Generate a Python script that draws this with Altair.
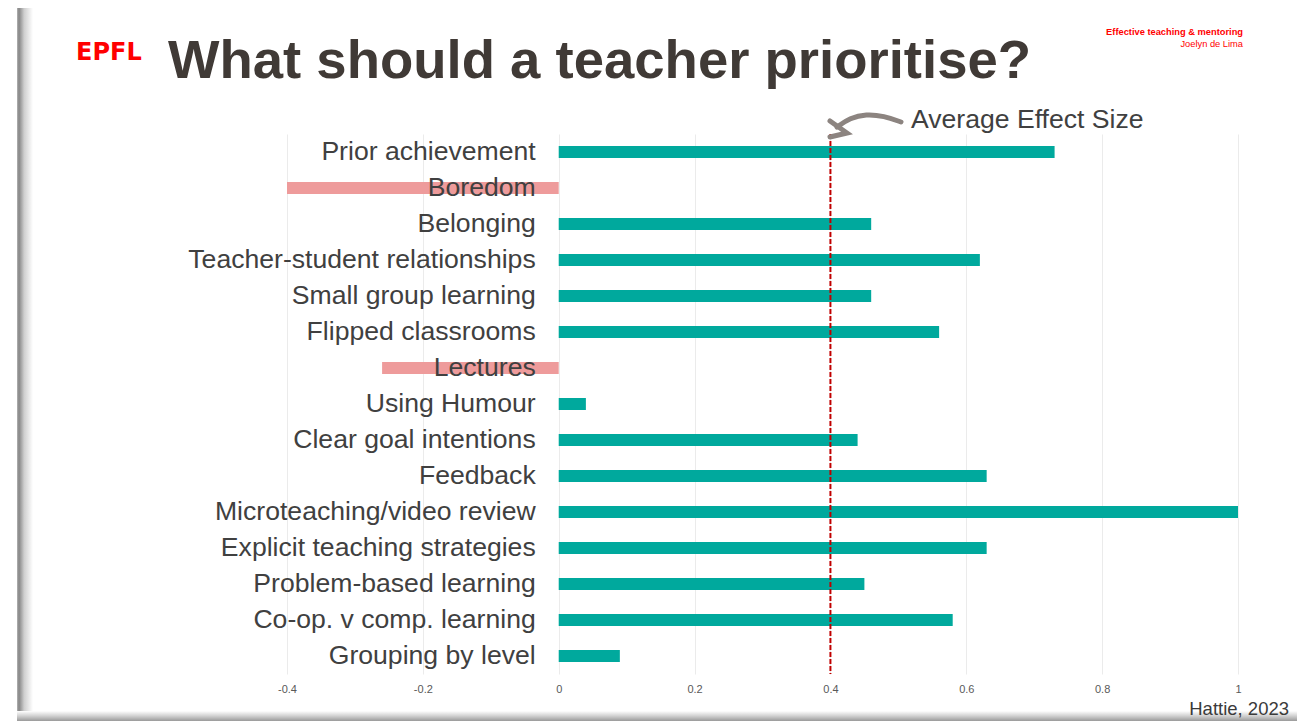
import altair as alt
import pandas as pd

# ---------------- data ----------------
categories = [
    "Prior achievement", "Boredom", "Belonging", "Teacher-student relationships",
    "Small group learning", "Flipped classrooms", "Lectures", "Using Humour",
    "Clear goal intentions", "Feedback", "Microteaching/video review",
    "Explicit teaching strategies", "Problem-based learning",
    "Co-op. v comp. learning", "Grouping by level",
]
effect_sizes = [0.73, -0.40, 0.46, 0.62, 0.46, 0.56, -0.26, 0.04,
                0.44, 0.63, 1.00, 0.63, 0.45, 0.58, 0.09]
x_ticks = [-0.4, -0.2, 0, 0.2, 0.4, 0.6, 0.8, 1]
average_effect = 0.4

title_text = "What should a teacher prioritise?"
logo_text = "EPFL"
course_text = "Effective teaching & mentoring"
author_text = "Joelyn de Lima"
avg_label = "Average Effect Size"
source_text = "Hattie, 2023"

df = pd.DataFrame({"factor": categories, "effect": effect_sizes})

FONT = "Liberation Sans"
TEAL = "#00A99D"
PINK = "#EE9B9B"
TXT = "#404040"

x_scale = alt.Scale(domain=[-0.4, 1.0], nice=False)
y_enc = alt.Y("factor:N", sort=categories, axis=None,
              scale=alt.Scale(paddingInner=0, paddingOuter=0))

base = alt.Chart(df)

bars = base.mark_bar(size=12).encode(
    x=alt.X("effect:Q", scale=x_scale,
            axis=alt.Axis(values=x_ticks, title=None, domain=False, ticks=False,
                          labelPadding=9, labelFontSize=11, labelFont=FONT,
                          labelFlush=False,
                          labelColor="#595959", grid=True, gridColor="#ebebeb",
                          labelExpr="datum.value < 0 ? '-' + format(-datum.value, '.1f') : (datum.value == 0 ? '0' : (datum.value == 1 ? '1' : format(datum.value, '.1f')))")),
    y=y_enc,
    color=alt.condition(alt.datum.effect < 0, alt.value(PINK), alt.value(TEAL)),
)

avg_rule = alt.Chart(pd.DataFrame({"avg": [average_effect]})).mark_rule(
    color="#C00000", strokeWidth=2, strokeDash=[5, 2]
).encode(x=alt.X("avg:Q", scale=x_scale))

labels = base.mark_text(align="right", baseline="middle", dx=-23, fontSize=26.6,
                        font=FONT, color=TXT).encode(
    x=alt.datum(0), y=y_enc, text="factor:N")

one = alt.Data(values=[{"a": 1}])

def txt(s, x, y, font=FONT, **kw):
    return alt.Chart(one).mark_text(text=s, font=font, **kw).encode(
        x=alt.value(x), y=alt.value(y))

title = txt(title_text, -119, -56, align="left", baseline="alphabetic",
            fontSize=54.5, fontWeight="bold", color="#403A36")
logo = txt(logo_text, -211, -74, font="DejaVu Sans", align="left",
           baseline="alphabetic", fontSize=24, fontWeight="bold", color="#FF0000")
course = txt(course_text, 956, -99, align="right", baseline="alphabetic",
             fontSize=9.3, fontWeight="bold", color="#FF0000")
author = txt(author_text, 956, -87, align="right", baseline="alphabetic",
             fontSize=9.3, color="#FF0000")
avg_txt = txt(avg_label, 624, -14, align="left", baseline="middle",
              fontSize=26.6, color=TXT)
source = txt(source_text, 1002, 581, align="right", baseline="alphabetic",
             fontSize=18.5, color="#3a3a3a")

left_shadow = alt.Chart(one).mark_rect(
    color=alt.LinearGradient(gradient="linear", x1=0, x2=1, y1=0, y2=0, stops=[
        alt.GradientStop(color="#b5b5b5", offset=0),
        alt.GradientStop(color="#858585", offset=0.12),
        alt.GradientStop(color="#cfcfcf", offset=0.45),
        alt.GradientStop(color="#ffffff", offset=1)])
).encode(x=alt.value(-270), x2=alt.value(-254), y=alt.value(-131), y2=alt.value(579))

bottom_shadow = alt.Chart(one).mark_rect(
    color=alt.LinearGradient(gradient="linear", x1=0, x2=0, y1=0, y2=1, stops=[
        alt.GradientStop(color="#ffffff", offset=0),
        alt.GradientStop(color="#d0d0d0", offset=0.5),
        alt.GradientStop(color="#9a9a9a", offset=1)])
).encode(x=alt.value(-270), x2=alt.value(1010), y=alt.value(577), y2=alt.value(587))

main = alt.layer(left_shadow, bottom_shadow, bars, labels, avg_rule,
                 title, logo, course, author, avg_txt, source)

# curved annotation arrow (pixel space of the plot area)
shaft = pd.DataFrame({"px": [614, 597, 579, 563, 550],
                      "py": [-12, -18, -20, -16, -7]})
head = pd.DataFrame({"px": [543, 543, 560], "py": [-13, 3, -1]})
ax = alt.Scale(domain=[0, 951], range=[0, 951])
ay = alt.Scale(domain=[0, 540], range=[0, 540])
arrow_shaft = alt.Chart(shaft).mark_line(
    color="#8C8480", strokeWidth=5, interpolate="basis", strokeCap="round"
).encode(x=alt.X("px:Q", scale=ax, axis=None), y=alt.Y("py:Q", scale=ay, axis=None),
         order="px:Q")
arrow_head = alt.Chart(head).mark_line(
    color="#8C8480", strokeWidth=5, strokeCap="round", strokeJoin="miter"
).encode(x=alt.X("px:Q", scale=ax, axis=None), y=alt.Y("py:Q", scale=ay, axis=None),
         order=alt.Order("py:Q"))

arrow = alt.layer(arrow_shaft, arrow_head)

chart = alt.layer(main, arrow).resolve_scale(x="independent", y="independent").properties(
    width=951, height=540,
    padding={"left": 279, "top": 126, "right": 66, "bottom": 47},
    autosize=alt.AutoSizeParams(type="none"),
).configure_view(stroke=None)

chart.save("out.html", embed_options={"renderer": "svg", "actions": False})
